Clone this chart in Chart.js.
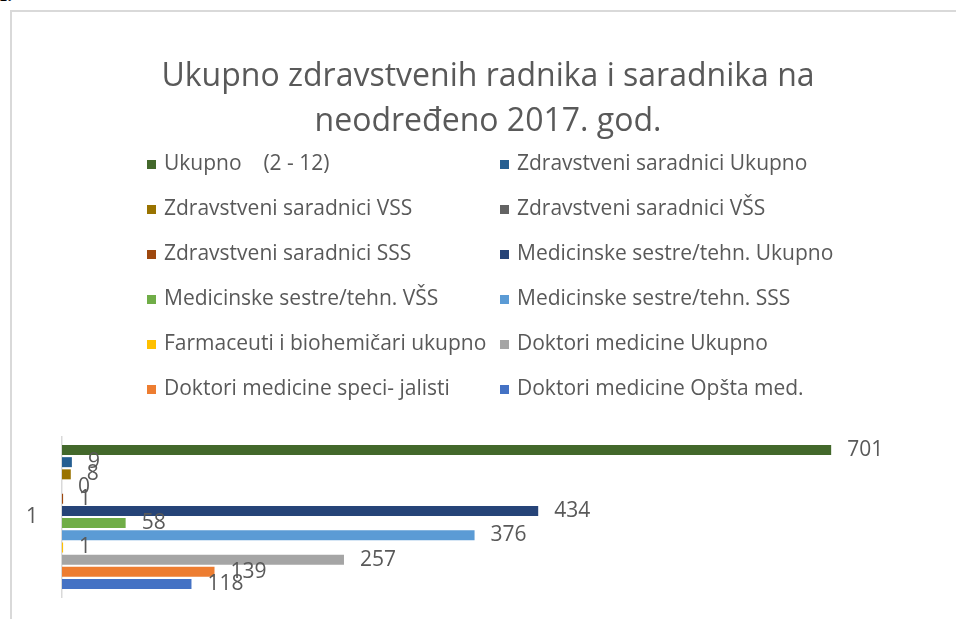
<!DOCTYPE html>
<html lang="sr">
<head>
  <meta charset="UTF-8" />
  <title>Ukupno zdravstvenih radnika</title>
  <script src="https://cdn.jsdelivr.net/npm/chart.js"></script>
  <style>
    html, body { margin: 0; padding: 0; overflow: hidden; background: #fff; }
    #frame { position: absolute; left: 10px; top: 10px; width: 1000px; height: 700px; border: 2px solid #d9d9d9; }
    #num { position: absolute; left: -1px; top: -14px; font: bold 17px "Liberation Serif", serif; color: #000; }
    canvas { position: absolute; left: 0; top: 0; }
  </style>
</head>
<body>
  <div id="num">1.</div>
  <div id="frame"></div>
  <canvas id="chart" width="976" height="619"></canvas>

  <script>
    // podaci
    const categories = ['1'];
    const seriesNames = [
      'Ukupno    (2 - 12)',
      'Zdravstveni saradnici Ukupno',
      'Zdravstveni saradnici VSS',
      'Zdravstveni saradnici VŠS',
      'Zdravstveni saradnici SSS',
      'Medicinske sestre/tehn. Ukupno',
      'Medicinske sestre/tehn. VŠS',
      'Medicinske sestre/tehn. SSS',
      'Farmaceuti i biohemičari ukupno',
      'Doktori medicine Ukupno',
      'Doktori medicine speci- jalisti',
      'Doktori medicine Opšta med.'
    ];
    const seriesValues = [701, 9, 8, 0, 1, 434, 58, 376, 1, 257, 139, 118];
    const seriesColors = ['#43682b', '#255e91', '#997300', '#636363', '#9e480e', '#264478',
                          '#70ad47', '#5b9bd5', '#ffc000', '#a5a5a5', '#ed7d31', '#4472c4'];
    const xMax = 833;

    const FONT = '"Open Sans", "Noto Sans", sans-serif';
    const GREY = '#595959';

    // legenda u dvije kolone
    const legendPlugin = {
      id: 'twoColLegend',
      afterDraw(chart) {
        const ctx = chart.ctx;
        const colX = [147, 500];
        ctx.save();
        ctx.font = '21px ' + FONT;
        ctx.textBaseline = 'middle';
        ctx.textAlign = 'left';
        chart.data.datasets.forEach((ds, i) => {
          const x = colX[i % 2];
          const y = 164 + Math.floor(i / 2) * 45;
          ctx.fillStyle = ds.backgroundColor;
          ctx.fillRect(x, y - 4, 9, 9);
          ctx.fillStyle = GREY;
          ctx.fillText(ds.label, x + 17, y);
        });
        ctx.restore();
      }
    };

    // vrijednosti pored stubaca
    const valuePlugin = {
      id: 'valueLabels',
      afterDatasetsDraw(chart) {
        const ctx = chart.ctx;
        ctx.save();
        ctx.font = '21px ' + FONT;
        ctx.fillStyle = GREY;
        ctx.textBaseline = 'middle';
        ctx.textAlign = 'left';
        chart.data.datasets.forEach((ds, i) => {
          const el = chart.getDatasetMeta(i).data[0];
          ctx.fillText(String(ds.data[0]), el.x + 16, el.y);
        });
        ctx.restore();
      }
    };

    new Chart(document.getElementById('chart'), {
      type: 'bar',
      data: {
        labels: categories,
        datasets: seriesNames.map((name, i) => ({
          label: name,
          data: [seriesValues[i]],
          backgroundColor: seriesColors[i],
          barPercentage: 0.82,
          categoryPercentage: 0.914
        }))
      },
      options: {
        indexAxis: 'y',
        responsive: false,
        animation: false,
        devicePixelRatio: 1,
        layout: { padding: { left: 0, right: 0, top: 0, bottom: 22 } },
        plugins: {
          legend: { display: false },
          tooltip: { enabled: false },
          title: {
            display: true,
            text: ['Ukupno zdravstvenih radnika i saradnika na', 'neodređeno 2017. god.'],
            color: GREY,
            font: { family: FONT, size: 32, weight: 'normal', lineHeight: 1.4 },
            padding: { top: 54.6, bottom: 292.8 }
          }
        },
        scales: {
          x: { display: false, min: 0, max: xMax },
          y: {
            grid: { display: false, drawTicks: false },
            border: { display: true, color: '#d9d9d9', width: 1.5 },
            ticks: { color: GREY, font: { family: FONT, size: 21 }, padding: 24 },
            afterFit(scale) {
              scale.width = 62;
              scale.paddingTop = 0;
              scale.paddingBottom = 0;
            }
          }
        }
      },
      plugins: [legendPlugin, valuePlugin]
    });
  </script>
</body>
</html>
